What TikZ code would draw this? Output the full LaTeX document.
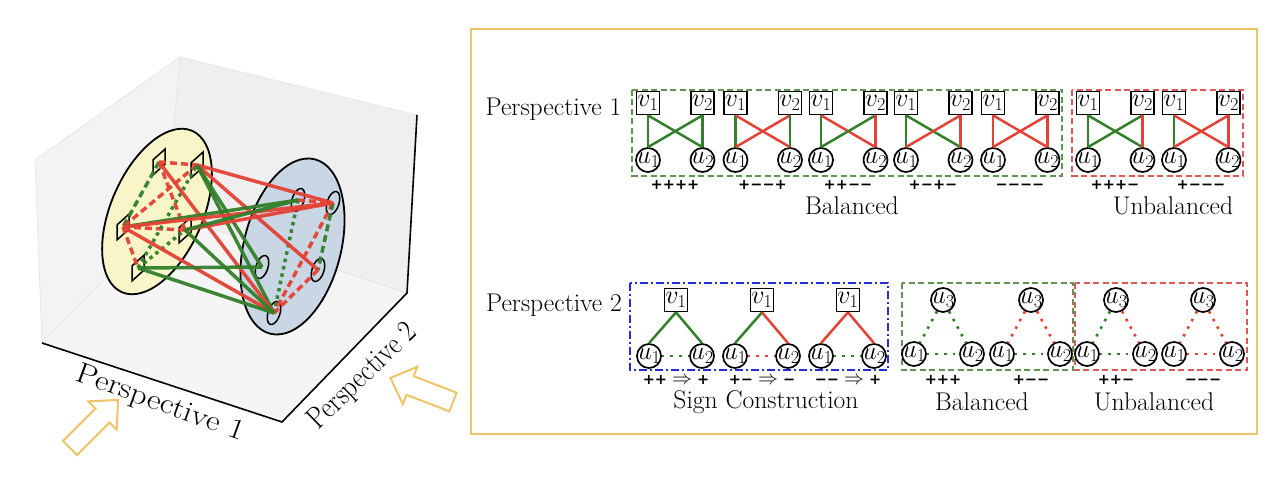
\RequirePackage{fix-cm}
\documentclass[tikz,border=0pt]{standalone}
\usepackage{fontspec}
\newfontfamily\signfont{DejaVu Sans}
\usetikzlibrary{shapes.geometric}
\newcommand\imp{\hspace{5pt}{\fontsize{20}{20}\selectfont$\Rightarrow$}\hspace{5pt}}
\definecolor{gR}{RGB}{228,66,54}
\definecolor{gG}{RGB}{50,128,42}
\definecolor{boxG}{RGB}{95,148,82}
\definecolor{boxR}{RGB}{222,88,88}
\definecolor{boxB}{RGB}{35,45,215}
\definecolor{gold}{RGB}{238,196,104}
\definecolor{yel}{RGB}{248,245,200}
\definecolor{blu}{RGB}{201,215,229}
\definecolor{paneA}{RGB}{245,245,246}
\definecolor{paneB}{RGB}{239,239,240}
\definecolor{paneL}{RGB}{243,243,244}
\definecolor{paneE}{RGB}{230,230,232}
\begin{document}
\begin{tikzpicture}[x=1pt,y=-1pt,
  F/.style={font=\fontsize{25.6}{30}\selectfont},
  NF/.style={font=\fontsize{26}{30}\selectfont},
  vsq/.style={NF, draw, rectangle, line width=1.7, minimum size=23, inner sep=0},
  ucir/.style={NF, draw, circle, line width=1.7, minimum size=24, inner sep=0},
  pe/.style={gG, line width=2.5},
  ne/.style={gR, line width=2.5},
  pdt/.style={gG, line width=2.6, dash pattern=on 2.6pt off 6pt},
  ndt/.style={gR, line width=2.6, dash pattern=on 2.6pt off 6pt},
  sgn/.style={font=\fontsize{14.5}{16}\signfont\bfseries, inner sep=0, execute at begin node={\vphantom{+}}},
  lbl/.style={F, inner sep=0},
  gbox/.style={boxG, line width=1.5, dash pattern=on 6pt off 3.5pt},
  rbox/.style={boxR, line width=1.5, dash pattern=on 6pt off 3.5pt},
  bbox/.style={boxB, line width=1.8, dash pattern=on 8pt off 3pt on 2pt off 3pt},
  lsq/.style={draw, rectangle, line width=1.5, minimum width=12, minimum height=15, inner sep=0, yslant=0.9},
  lcir/.style={draw, ellipse, line width=1.5, minimum width=24, minimum height=12, inner sep=0, rotate=72},
  lp/.style={gG, line width=3.5, opacity=0.95},
  ln/.style={gR, line width=3.5, opacity=0.95},
  lpd/.style={lp, dash pattern=on 7pt off 4pt},
  lnd/.style={ln, dash pattern=on 7pt off 4pt},
  lpdot/.style={lp, dash pattern=on 3.5pt off 4pt},
  axl/.style={font=\fontsize{29}{32}\selectfont, inner sep=0},
  garrow/.style={draw=gold, line width=2, line join=miter}
]
\useasboundingbox (0,0) rectangle (1280,486);

% ---------- left: 3D box ----------
\fill[paneL] (35,160) -- (180,57) -- (167,214) -- (42,343) -- cycle;
\fill[paneB] (180,57) -- (417,115) -- (407,293) -- (167,214) -- cycle;
\fill[paneA] (42,343) -- (282,422) -- (407,293) -- (167,214) -- cycle;
\draw[paneE, line width=0.8] (35,160) -- (180,57) -- (417,115);
\draw[paneE, line width=0.8] (180,57) -- (167,214) -- (42,343) -- (35,160);
\draw[paneE, line width=0.8] (167,214) -- (407,293);
\draw[black, line width=1.6] (42,343) -- (282,422) -- (407,293) -- (417,115);

% ellipses
\draw[fill=yel, line width=1.8, rotate around={66.5:(157,211.5)}] (157,211.5) ellipse [x radius=88, y radius=46];
\draw[fill=blu, line width=1.8, rotate around={75.6:(292.5,246.5)}] (292.5,246.5) ellipse [x radius=90, y radius=48.5];

% nodes
\node[lsq] (S1) at (159,162) {};
\node[lsq] (S2) at (197,165) {};
\node[lsq] (S3) at (123,227) {};
\node[lsq] (S4) at (185,230) {};
\node[lsq] (S5) at (138,268) {};
\node[lcir] (C1) at (298,200) {};
\node[lcir] (C2) at (333,203) {};
\node[lcir] (C3) at (262,267) {};
\node[lcir] (C4) at (318,270) {};
\node[lcir] (C5) at (274,313) {};

% internal edges
\draw[lnd] (S1.center) -- (S2.center);
\draw[lpd] (S1.center) -- (S3.center);
\draw[lnd] (S2.center) -- (S3.center);
\draw[lnd] (S1.center) -- (S4.center);
\draw[lnd] (S3.center) -- (S4.center);
\draw[lnd] (S3.center) -- (S5.center);
\draw[lpdot] (S5.center) -- (S2.center);
\draw[lpdot] (S5.center) -- (S4.center);
\draw[lpdot] (C1.center) -- (C5.center);
\draw[lnd] (C2.center) -- (C5.center);
\draw[lpd] (C2.center) -- (C4.center);
\draw[lnd] (C4.center) -- (C5.center);
\draw[lnd] (C1.center) -- (C2.center);
% cross edges
\draw[ln] (S2.center) -- (C2.center);
\draw[ln] (S2.center) -- (C4.center);
\draw[lp] (S2.center) -- (C5.center);
\draw[lp] (S2.center) -- (C3.center);
\draw[ln] (S1.center) -- (C5.center);
\draw[lp] (S3.center) -- (C1.center);
\draw[ln] (S3.center) -- (C2.center);
\draw[ln] (S3.center) -- (C5.center);
\draw[ln] (S4.center) -- (C2.center);
\draw[lp] (S4.center) -- (C1.center);
\draw[lp] (S4.center) -- (C5.center);
\draw[lp] (S5.center) -- (C3.center);
\draw[lp] (S5.center) -- (C5.center);

% axis labels
\node[axl, rotate=-20, xscale=1.15] (ax1) at (160,404) {Perspective 1};
\node[axl, rotate=44, xscale=0.84, font=\fontsize{31}{34}\selectfont] (ax2) at (363,377) {Perspective 2};

% hollow arrows
\draw[garrow, shift={(70,448)}, rotate=45] (0,-10) -- (46,-10) -- (46,-20) -- (68,0) -- (46,20) -- (46,10) -- (0,10) -- cycle;
\draw[garrow, shift={(453,402)}, rotate=159] (0,-10) -- (46,-10) -- (46,-20) -- (67,0) -- (46,20) -- (46,10) -- (0,10) -- cycle;

% ---------- right panel ----------
\draw[gold, line width=2] (471,29) rectangle (1257,434);

% top row
\node[lbl] (p1) at (553.5,109) {Perspective 1};
\draw[gbox] (632,90) rectangle (1062,176);
\draw[rbox] (1072,90) rectangle (1243,176);
\foreach \x/\a/\b/\c/\d/\s [count=\i] in {
  648/pe/pe/pe/pe/{++++},
  735.5/pe/ne/ne/pe/{+−−+},
  821/pe/ne/pe/ne/{++−−},
  906/pe/pe/ne/ne/{+−+−},
  993/ne/ne/ne/ne/{−−−−},
  1088/pe/pe/pe/ne/{+++−},
  1174/pe/ne/ne/ne/{+−−−}}{
  \node[vsq] (tv1\i) at (\x,103) {\makebox[0pt]{$v_1$}};
  \node[vsq] (tv2\i) at (\x+54.5,103) {\makebox[0pt]{$v_2$}};
  \node[ucir] (tu1\i) at (\x,160) {\makebox[0pt]{$u_1$}};
  \node[ucir] (tu2\i) at (\x+54.5,160) {\makebox[0pt]{$u_2$}};
  \draw[\a] (tv1\i.south) -- (tu1\i.north);
  \draw[\b] (tv1\i.south) -- (tu2\i.north);
  \draw[\c] (tv2\i.south) -- (tu1\i.north);
  \draw[\d] (tv2\i.south) -- (tu2\i.north);
  \node[sgn] (ts\i) at (\x+27,185) {\s};
}
\node[lbl] (bal1) at (852,206) {Balanced};
\node[lbl] (unb1) at (1173,206) {Unbalanced};

% bottom row
\node[lbl] (p2) at (554,305) {Perspective 2};
\draw[bbox] (630,283) rectangle (888,370);
\draw[gbox] (902,283) rectangle (1073,370);
\draw[rbox] (1075,283) rectangle (1247,370);
\foreach \x/\a/\b/\c/\s [count=\i] in {
  676/pe/pe/pdt/{++\imp+},
  762/pe/ne/ndt/{+−\imp−},
  848/ne/ne/pdt/{−−\imp+}}{
  \node[vsq] (bv\i) at (\x,300) {\makebox[0pt]{$v_1$}};
  \node[ucir] (bu1\i) at (\x-27,356) {\makebox[0pt]{$u_1$}};
  \node[ucir] (bu2\i) at (\x+26,356) {\makebox[0pt]{$u_2$}};
  \draw[\a] (bv\i.south) -- (bu1\i.north);
  \draw[\b] (bv\i.south) -- (bu2\i.north);
  \draw[\c] (bu1\i) -- (bu2\i);
  \node[sgn] (bs\i) at (\x,380) {\s};
}
\node[lbl] (sc) at (766,402) {Sign Construction};
\foreach \x/\a/\b/\c/\s [count=\i] in {
  943/pdt/pdt/pdt/{+++},
  1031/ndt/ndt/pdt/{+−−},
  1116/pdt/ndt/pdt/{++−},
  1203/ndt/ndt/ndt/{−−−}}{
  \node[ucir] (w3\i) at (\x,300) {\makebox[0pt]{$u_3$}};
  \node[ucir] (w1\i) at (\x-29,354) {\makebox[0pt]{$u_1$}};
  \node[ucir] (w2\i) at (\x+29,354) {\makebox[0pt]{$u_2$}};
  \draw[\a] (w3\i) -- (w1\i);
  \draw[\b] (w3\i) -- (w2\i);
  \draw[\c] (w1\i) -- (w2\i);
  \node[sgn] (ws\i) at (\x,380) {\s};
}
\node[lbl] (bal2) at (982,402) {Balanced};
\node[lbl] (unb2) at (1154,402) {Unbalanced};
\end{tikzpicture}
\end{document}
